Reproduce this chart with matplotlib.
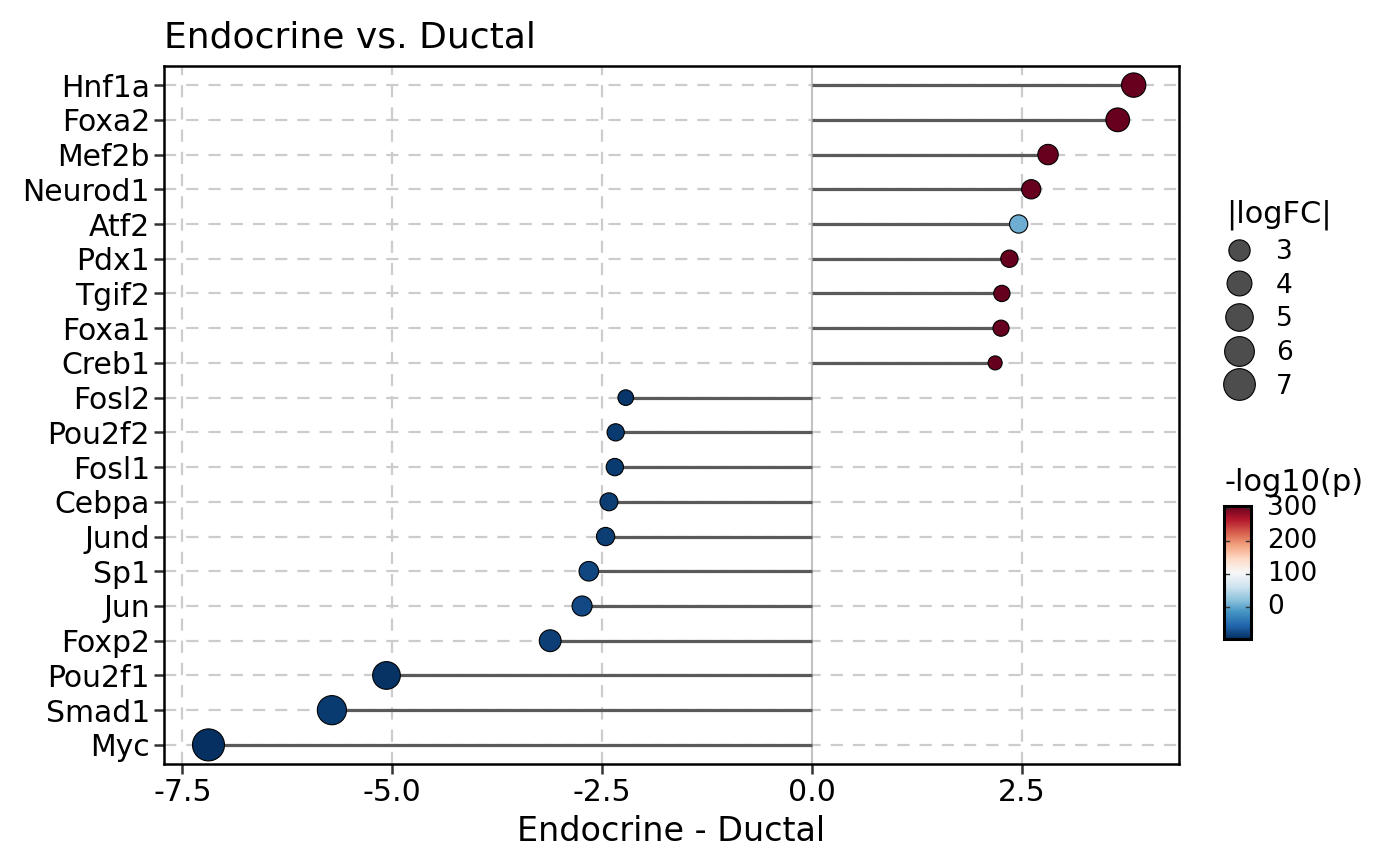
import numpy as np
import matplotlib
matplotlib.use("Agg")
import matplotlib.pyplot as plt
from matplotlib.lines import Line2D
import matplotlib.colors as mcolors
from matplotlib.transforms import offset_copy

genes = ["Hnf1a", "Foxa2", "Mef2b", "Neurod1", "Atf2", "Pdx1", "Tgif2", "Foxa1", "Creb1",
         "Fosl2", "Pou2f2", "Fosl1", "Cebpa", "Jund", "Sp1", "Jun", "Foxp2", "Pou2f1", "Smad1", "Myc"]
logfc = [3.83, 3.64, 2.81, 2.61, 2.46, 2.35, 2.26, 2.25, 2.18,
         -2.22, -2.34, -2.35, -2.42, -2.46, -2.66, -2.74, -3.12, -5.07, -5.72, -7.19]
neglog10p = [306, 306, 306, 306, 5, 306, 306, 306, 306,
             -92, -90, -90, -88, -88, -80, -78, -86, -96, -90, -98]
size_breaks = [3, 4, 5, 6, 7]
color_ticks = [0, 100, 200, 300]
cmin, cmax = -98, 306

plt.rcParams['font.family'] = ['DejaVu Sans']

fig = plt.figure(figsize=(14, 8.66), dpi=100)
ax = fig.add_axes([164/1400, 102/866, 1015/1400, 698/866])

n = len(genes)
ypos = np.arange(n)[::-1]
absfc = np.abs(np.array(logfc))
fmin, fmax = absfc.min(), absfc.max()

def radius_px(v):
    return 7 + 9 * np.sqrt(np.clip((np.asarray(v) - fmin) / (fmax - fmin), 0, 1))

def s_of(v):
    d_pt = 2 * radius_px(v) * 72 / 100
    return d_pt ** 2

cmap = plt.get_cmap("RdBu_r")
norm = mcolors.Normalize(vmin=cmin, vmax=cmax)

ax.set_xlim(-7.72, 4.37)
ax.set_ylim(-0.55, n - 1 + 0.55)

dash = (0, (5.5, 4.5))
for x in [-7.5, -5.0, -2.5, 2.5]:
    ax.axvline(x, color="#cccccc", lw=1.6, ls=dash, zorder=0)
for y in ypos:
    ax.axhline(y, color="#cccccc", lw=1.6, ls=dash, zorder=0)
ax.axvline(0, color="#c2c2c2", lw=1.5, zorder=1)

ax.hlines(ypos, 0, logfc, color="#5a5a5a", lw=2.3, zorder=2)
ax.scatter(logfc, ypos, s=s_of(absfc), c=neglog10p, cmap=cmap, norm=norm,
           edgecolors="black", linewidths=0.8, zorder=3)

ax.set_yticks(ypos)
ax.set_yticklabels(genes, fontsize=21.5)
ax.set_xticks([-7.5, -5.0, -2.5, 0.0, 2.5])
ax.set_xticklabels(["-7.5", "-5.0", "-2.5", "0.0", "2.5"], fontsize=21.5)
ax.tick_params(axis="both", length=7, width=1.8, color="#333333", pad=3)
for sp in ax.spines.values():
    sp.set_linewidth(1.8)
ax.set_xlabel("Endocrine - Ductal", fontsize=24, labelpad=6)
ax.set_title("Endocrine vs. Ductal", loc="left", fontsize=26, pad=13)

# size legend
fig.text(1226/1400, 1 - 223/866, "|logFC|", fontsize=22, ha="left", va="baseline")
handles = [Line2D([], [], ls="", marker="o", markersize=2 * radius_px(b) * 0.72,
                  markerfacecolor="#4d4d4d", markeredgecolor="black", markeredgewidth=0.8)
           for b in size_breaks]
leg = fig.legend(handles, [str(b) for b in size_breaks],
                 loc="upper left", bbox_to_anchor=(1222/1400, 1 - 239/866),
                 frameon=False, fontsize=19,
                 handletextpad=0.75, labelspacing=0.29, borderpad=0, handlelength=1.3,
                 borderaxespad=0)

# colorbar
cax = fig.add_axes([1224/1400, (866 - 639)/866, 27/1400, 133/866])
sm = plt.cm.ScalarMappable(cmap=cmap, norm=norm)
cb = fig.colorbar(sm, cax=cax)
cb.outline.set_linewidth(2.2)
cb.set_ticks([])
cax.set_ylim(cmin, cmax)
ytr = cax.get_yaxis_transform()
lab_tr = offset_copy(ytr, fig=fig, x=16, y=0, units="dots")
for t in color_ticks:
    cax.plot([0, 0.2], [t, t], color="#333333", lw=1, transform=ytr)
    cax.plot([0.8, 1.0], [t, t], color="#333333", lw=1, transform=ytr)
    cax.text(1.0, t, str(t), transform=lab_tr, fontsize=19, ha="left", va="center",
             clip_on=False)
fig.text(1224/1400, 1 - 482/866, "-log10(p)", fontsize=22, ha="left", va="center")

fig.savefig("out.png", dpi=100)
